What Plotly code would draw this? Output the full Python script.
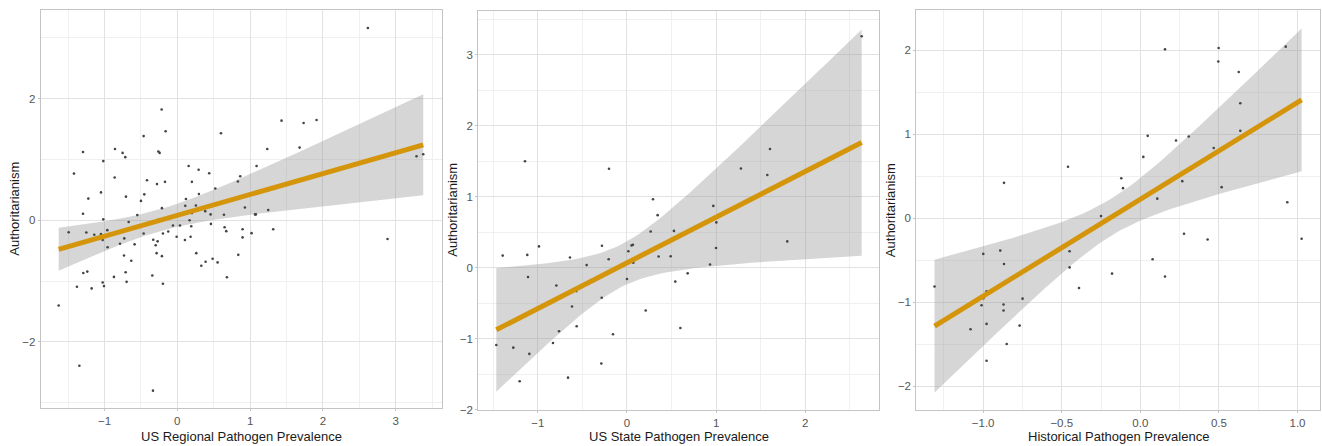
import numpy as np
import plotly.graph_objects as go

# ---- Data ----
reg_x = [2.618, -1.629, -1.345, -0.334, 2.888, 3.286, 3.378, 1.432, 1.735, 1.913,
         1.680, 1.236, 1.089, 0.865, 0.833, 1.259, 1.249, 1.067, 1.080, 1.318,
         1.020, 0.897, 0.897, 0.929, 0.838, 0.682, 0.650, 0.673, 0.641, 0.600,
         0.522, 0.554, 0.485, 0.462, 0.458, 0.439, 0.384, 0.389, 0.330, 0.293,
         0.297, 0.256, 0.261, 0.201, 0.201, 0.192, 0.183, 0.169, 0.156, 0.119,
         0.110, 0.105, 0.037, -0.009, -0.059, -0.124, -0.160, -0.169, -0.215, -0.211,
         -0.260, -0.243, -0.279, -0.256, -0.197, -0.211, -0.197, -0.270, -0.297, -0.330,
         -0.284, -0.343, -0.462, -0.416, -0.453, -0.499, -0.462, -0.549, -0.586, -0.632,
         -0.668, -0.705, -0.714, -0.751, -0.728, -0.732, -0.709, -0.696, -0.787, -0.856,
         -0.860, -0.870, -0.957, -0.961, -1.016, -1.016, -1.048, -1.048, -1.025, -1.025,
         -1.007, -1.140, -1.222, -1.249, -1.236, -1.291, -1.295, -1.295, -1.176, -1.378,
         -1.419, -1.492]
reg_y = [3.162, -1.400, -2.390, -2.800, -0.308, 1.054, 1.086, 1.638, 1.600, 1.649,
         1.195, 1.173, 0.892, 0.724, 0.638, 0.497, 0.168, 0.097, 0.097, -0.146,
         -0.211, -0.146, -0.281, 0.211, -0.568, -0.935, -0.114, -0.178, 0.092, 1.432,
         0.524, -0.692, -0.632, -0.059, 0.097, 0.773, 0.151, -0.681, -0.746, 0.832,
         0.432, 0.243, -0.540, 0.632, 0.119, -0.097, -0.270, 0.000, 0.892, 0.351,
         0.238, -0.324, -0.086, -0.270, -0.086, -0.184, 1.465, 0.632, 1.822, 0.200,
         1.130, 1.108, 0.595, 0.011, -0.216, -0.589, -1.043, -0.346, -0.411, -0.319,
         -0.540, -0.908, 1.384, 0.659, 0.427, 0.319, -0.216, 0.086, -0.395, -0.665,
         -0.027, 0.389, 1.038, 1.108, -0.297, -0.578, -0.854, -1.011, -0.384, 1.173,
         0.703, -0.930, -0.443, -0.162, 0.973, 0.016, 0.459, -0.227, -0.324, -1.022,
         -1.081, -0.238, 0.357, -0.200, -0.843, -0.865, 1.124, 0.108, -1.119, -1.092,
         0.768, -0.195]

state_x = [2.634, 1.605, 1.575, 1.279, 1.799, 0.969, 1.003, 0.999, 0.932, 0.681,
           0.542, 0.599, 0.527, 0.490, 0.355, 0.344, 0.292, 0.266, 0.210, 0.067,
           0.052, 0.071, 0.015, 0.000, -0.157, -0.202, -0.206, -0.281, -0.284, -0.288,
           -0.453, -0.569, -0.565, -0.617, -0.640, -0.662, -0.793, -0.763, -0.831, -0.988,
           -1.111, -1.119, -1.096, -1.145, -1.205, -1.276, -1.395, -1.467]
state_y = [3.262, 1.673, 1.307, 1.399, 0.371, 0.871, 0.639, 0.278, 0.046, -0.079,
           -0.195, -0.848, 0.519, 0.162, 0.158, 0.741, 0.964, 0.510, -0.602, 0.324,
           0.315, 0.070, 0.232, -0.158, -0.936, 1.395, 0.120, 0.310, -0.422, -1.348,
           0.037, -0.329, -0.825, -0.547, 0.144, -1.548, -0.250, -0.894, -1.061, 0.301,
           -0.130, 0.181, -1.214, 1.501, -1.599, -1.126, 0.171, -1.089]

hist_x = [0.925, 0.498, 0.496, 0.157, 0.626, 0.636, 0.636, 0.935, 1.026, 0.467,
          0.517, 0.428, 0.308, 0.227, 0.267, 0.267, 0.278, 0.157, 0.108, 0.078,
          0.047, 0.019, -0.110, -0.121, -0.180, -0.250, -0.390, -0.450, -0.450, -0.460,
          -0.749, -0.768, -0.850, -0.867, -0.867, -0.870, -0.870, -0.891, -0.978, -0.978,
          -0.978, -0.999, -0.999, -1.010, -1.080, -1.309]
hist_y = [2.045, 2.029, 1.868, 2.013, 1.743, 1.371, 1.042, 0.192, -0.243, 0.838,
          0.372, -0.251, 0.975, 0.928, 0.541, 0.443, -0.184, -0.693, 0.235, -0.486,
          0.983, 0.732, 0.360, 0.478, -0.658, 0.027, -0.830, -0.392, -0.584, 0.615,
          -0.956, -1.277, -1.496, 0.423, -0.544, -1.026, -1.097, -0.384, -0.870, -1.257,
          -1.696, -0.423, -0.952, -1.034, -1.320, -0.811]

# Confidence band half-widths (narrowest, left end, right end)
band_min_half = [0.18, 0.30, 0.22]
band_left_half = [0.354, 0.871, 0.791]
band_right_half = [0.83, 1.594, 0.85]

x_titles = ["US Regional Pathogen Prevalence", "US State Pathogen Prevalence",
            "Historical Pathogen Prevalence"]
y_title = "Authoritarianism"


# ---- helpers ----
def linear_fit(x, y, n_pts=80):
    x = np.asarray(x, float)
    y = np.asarray(y, float)
    xm = x.mean()
    b = ((x - xm) * (y - y.mean())).sum() / ((x - xm) ** 2).sum()
    a = y.mean() - b * xm
    xs = np.linspace(x.min(), x.max(), n_pts)
    return xs, a + b * xs


def band_half(xs, h0, hl, hr):
    # hyperbolic confidence-band shape (as for a linear fit), matched to
    # the half-widths read at the narrowest point and both ends
    xl, xr = xs[0], xs[-1]
    r = np.sqrt((hl ** 2 - h0 ** 2) / (hr ** 2 - h0 ** 2))
    x0 = (xl + r * xr) / (1 + r)
    k = np.sqrt(hr ** 2 - h0 ** 2) / (xr - x0)
    return np.sqrt(h0 ** 2 + (k * (xs - x0)) ** 2)


W, H = 1322, 446
FONT = "Liberation Sans, Arial, sans-serif"
panels = [
    dict(x=reg_x, y=reg_y, px=(40.7, 441.7), py=(10, 414),
         xr=[-1.876, 3.632], yr=[-3.092, 3.459], xd=1, xmd=0.5, yd=2, ymd=1,
         xfmt="d", yfmt="d", ytx=14.5),
    dict(x=state_x, y=state_y, px=(478.3, 879.3), py=(11, 415.3),
         xr=[-1.669, 2.832], yr=[-2.0, 3.619], xd=1, xmd=0.5, yd=1, ymd=0.5,
         xfmt="d", yfmt="d", ytx=452.5),
    dict(x=hist_x, y=hist_y, px=(916.3, 1319.7), py=(10, 416),
         xr=[-1.425, 1.141], yr=[-2.287, 2.483], xd=0.5, xmd=0.25, yd=1, ymd=0.5,
         xfmt=".1f", yfmt="d", ytx=890.0),
]

LINE_COLOR = "#D4950B"
fig = go.Figure()
annotations = []
for i, p in enumerate(panels, start=1):
    xa = "x" if i == 1 else f"x{i}"
    ya = "y" if i == 1 else f"y{i}"
    xs, fit = linear_fit(p["x"], p["y"])
    half = band_half(xs, band_min_half[i - 1], band_left_half[i - 1], band_right_half[i - 1])
    lo, hi = fit - half, fit + half
    fig.add_trace(go.Scatter(
        x=np.concatenate([xs, xs[::-1]]), y=np.concatenate([hi, lo[::-1]]),
        fill="toself", fillcolor="rgba(153,153,153,0.4)", line=dict(width=0),
        mode="lines", hoverinfo="skip", showlegend=False, xaxis=xa, yaxis=ya))
    fig.add_trace(go.Scatter(
        x=p["x"], y=p["y"], mode="markers",
        marker=dict(size=2.6, color="#444444"), showlegend=False, xaxis=xa, yaxis=ya))
    fig.add_trace(go.Scatter(
        x=xs, y=fit, mode="lines", line=dict(color=LINE_COLOR, width=5),
        showlegend=False, xaxis=xa, yaxis=ya))

    xdom = [p["px"][0] / W, p["px"][1] / W]
    ydom = [1 - p["py"][1] / H, 1 - p["py"][0] / H]
    axis_common = dict(
        showgrid=True, gridcolor="#e2e2e2", gridwidth=1, zeroline=False,
        showline=True, linecolor="#c4c4c4", linewidth=1, mirror=True,
        ticks="outside", ticklen=2, tickcolor="#c4c4c4", tickwidth=1,
        tickfont=dict(family=FONT, size=11.5, color="#555555"),
    )
    minor_common = dict(showgrid=True, gridcolor="#f0f0f0", gridwidth=1, tick0=0)
    fig.update_layout(**{
        ("xaxis" if i == 1 else f"xaxis{i}"): dict(
            axis_common, domain=xdom, range=p["xr"], tick0=0, dtick=p["xd"],
            tickformat=p["xfmt"], anchor=ya,
            minor=dict(minor_common, dtick=p["xmd"])),
        ("yaxis" if i == 1 else f"yaxis{i}"): dict(
            axis_common, domain=ydom, range=p["yr"], tick0=0, dtick=p["yd"],
            tickformat=p["yfmt"], anchor=xa,
            minor=dict(minor_common, dtick=p["ymd"])),
    })
    cx = (p["px"][0] + p["px"][1]) / 2 / W
    annotations.append(dict(
        text=x_titles[i - 1], x=cx, y=1 - 442 / H, xref="paper", yref="paper",
        xanchor="center", yanchor="middle", showarrow=False, borderpad=0,
        font=dict(family=FONT, size=13, color="#1a1a1a")))
    cy = 1 - (p["py"][0] + p["py"][1]) / 2 / H
    annotations.append(dict(
        text=y_title, x=p["ytx"] / W, y=cy, xref="paper", yref="paper",
        xanchor="center", yanchor="middle", textangle=-90, showarrow=False, borderpad=0,
        font=dict(family=FONT, size=13, color="#1a1a1a")))

fig.update_layout(
    width=W, height=H, margin=dict(l=0, r=0, t=0, b=0),
    paper_bgcolor="white", plot_bgcolor="white", annotations=annotations,
    showlegend=False,
)

fig.write_html(
    "out.html",
    config={"displayModeBar": False},
    post_script="document.body.style.margin='0px';document.body.style.overflow='hidden';",
)
